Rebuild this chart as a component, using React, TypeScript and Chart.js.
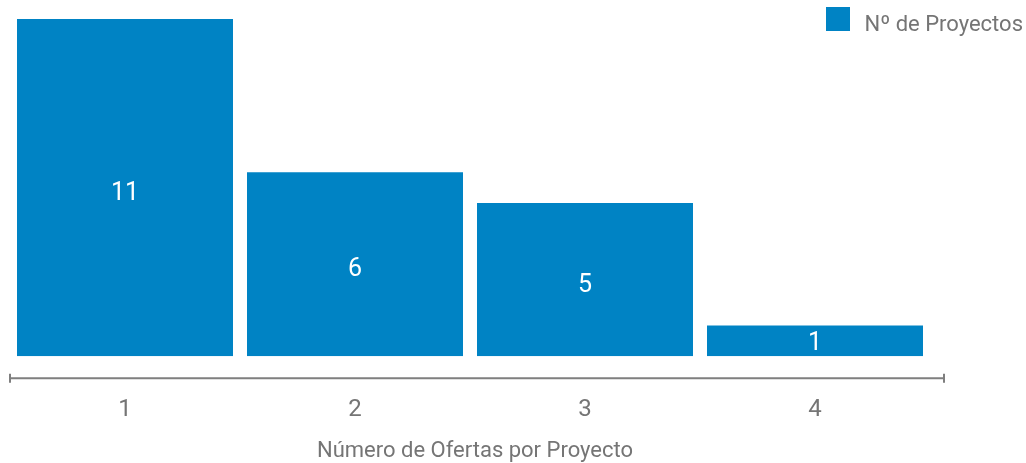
import React, { useEffect, useRef } from "react";
import { Chart, registerables } from "chart.js";

Chart.register(...registerables);

const categories = ["1", "2", "3", "4"];
const projectCounts = [11, 6, 5, 1];
const seriesLabel = "Nº de Proyectos";
const axisTitle = "Número de Ofertas por Proyecto";

const BAR_COLOR = "#0083C4";
const TEXT_GRAY = "#757575";
const AXIS_GRAY = "#7f7f7f";
const FONT = "Roboto, 'Noto Sans', sans-serif";

const decorPlugin = {
  id: "decor",
  afterDatasetsDraw(chart: any) {
    const ctx = chart.ctx;
    const area = chart.chartArea;
    const meta = chart.getDatasetMeta(0);
    ctx.save();
    // value labels inside bars
    ctx.fillStyle = "#ffffff";
    ctx.font = `25px ${FONT}`;
    ctx.textAlign = "center";
    ctx.textBaseline = "middle";
    meta.data.forEach((bar: any, i: number) => {
      const cy = (bar.y + bar.base) / 2 + 6;
      ctx.fillText(String(projectCounts[i]), bar.x, Math.min(cy, bar.base - 12));
    });
    // axis line with end caps
    const y = area.bottom + 22;
    const x0 = area.left;
    const x1 = area.right + 14;
    ctx.strokeStyle = AXIS_GRAY;
    ctx.lineWidth = 2;
    ctx.beginPath();
    ctx.moveTo(x0, y);
    ctx.lineTo(x1, y);
    ctx.moveTo(x0, y - 4.5);
    ctx.lineTo(x0, y + 4.5);
    ctx.moveTo(x1, y - 4.5);
    ctx.lineTo(x1, y + 4.5);
    ctx.stroke();
    // axis title
    ctx.fillStyle = TEXT_GRAY;
    ctx.font = `22px ${FONT}`;
    ctx.textAlign = "center";
    ctx.textBaseline = "alphabetic";
    ctx.fillText(axisTitle, 475, 457);
    // legend
    ctx.fillStyle = BAR_COLOR;
    ctx.fillRect(826, 7, 24, 24);
    ctx.fillStyle = TEXT_GRAY;
    ctx.textAlign = "right";
    ctx.fillText(seriesLabel, 1023, 31);
    ctx.restore();
  },
};

export default function App() {
  const ref = useRef<HTMLCanvasElement | null>(null);
  useEffect(() => {
    if (!ref.current) return;
    const chart = new Chart(ref.current, {
      type: "bar",
      data: {
        labels: categories,
        datasets: [
          {
            label: seriesLabel,
            data: projectCounts,
            backgroundColor: BAR_COLOR,
            borderWidth: 0,
            barPercentage: 216 / 230,
            categoryPercentage: 1,
          },
        ],
      },
      options: {
        animation: false,
        responsive: true,
        maintainAspectRatio: false,
        layout: { padding: { left: 10, right: 96, top: 19, bottom: 8 } },
        plugins: { legend: { display: false }, tooltip: { enabled: false } },
        scales: {
          x: {
            grid: { display: false },
            border: { display: false },
            ticks: {
              color: TEXT_GRAY,
              font: { family: FONT, size: 24 },
              padding: 31,
            },
          },
          y: { display: false, min: 0, max: 11 },
        },
      },
      plugins: [decorPlugin],
    });
    return () => chart.destroy();
  }, []);
  return (
    <div style={{ position: "absolute", left: 0, top: 0, width: 1026, height: 463 }}>
      <canvas ref={ref} />
    </div>
  );
}
